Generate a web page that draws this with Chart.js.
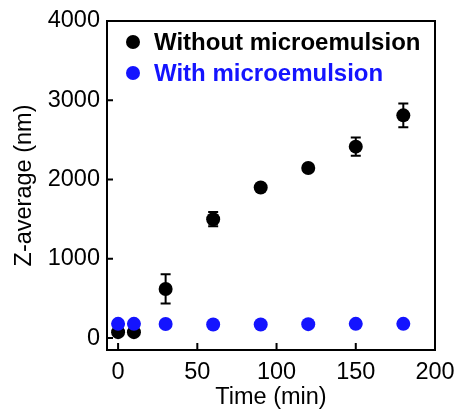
<!DOCTYPE html>
<html>
<head>
<meta charset="utf-8">
<script src="https://cdn.jsdelivr.net/npm/chart.js@4.4.0/dist/chart.umd.min.js"></script>
<style>
  html, body { margin: 0; padding: 0; background: #fff; }
  #wrap { width: 459px; height: 412px; }
</style>
</head>
<body>
<div id="wrap"><canvas id="grafico" width="459" height="412"></canvas></div>
<script>
// datos
const tiempos = [0, 10, 30, 60, 90, 120, 150, 180];
const sinMicro = [75, 75, 620, 1500, 1900, 2145, 2415, 2810];
const sinMicroErr = [30, 30, 185, 90, 40, 40, 115, 150];
const conMicro = [180, 180, 178, 172, 172, 176, 180, 180];
const ticksX = [0, 50, 100, 150, 200];
const ticksY = [0, 1000, 2000, 3000, 4000];

const fuente = '"Liberation Sans", Arial, sans-serif';
const azul = '#1414ff';

const marco = {
  id: 'marco',
  beforeDatasetsDraw(chart) {
    // barras de error
    const { ctx, scales: { x, y } } = chart;
    ctx.save();
    ctx.strokeStyle = '#000';
    ctx.lineWidth = 2;
    tiempos.forEach((t, i) => {
      const px = x.getPixelForValue(t);
      const arriba = y.getPixelForValue(sinMicro[i] + sinMicroErr[i]);
      const abajo = y.getPixelForValue(sinMicro[i] - sinMicroErr[i]);
      ctx.beginPath();
      ctx.moveTo(px, arriba); ctx.lineTo(px, abajo);
      ctx.moveTo(px - 5, arriba); ctx.lineTo(px + 5, arriba);
      ctx.moveTo(px - 5, abajo); ctx.lineTo(px + 5, abajo);
      ctx.stroke();
    });
    ctx.restore();
  },
  afterDraw(chart) {
    const { ctx, chartArea: a, scales: { x, y } } = chart;
    ctx.save();
    ctx.strokeStyle = '#000';
    ctx.lineWidth = 2;
    ctx.strokeRect(a.left, a.top, a.right - a.left, a.bottom - a.top);
    // marcas hacia dentro
    ctx.beginPath();
    ticksY.forEach(v => {
      const py = y.getPixelForValue(v);
      ctx.moveTo(a.left, py); ctx.lineTo(a.left + 6, py);
    });
    ticksX.forEach(v => {
      const px = x.getPixelForValue(v);
      ctx.moveTo(px, a.bottom); ctx.lineTo(px, a.bottom - 7);
    });
    ctx.stroke();
    // leyenda dentro del grafico
    const items = [chart.data.datasets[1], chart.data.datasets[0]];
    ctx.font = 'bold 24px ' + fuente;
    ctx.textBaseline = 'middle';
    items.forEach((ds, i) => {
      const cy = a.top + 21 + i * 31;
      ctx.fillStyle = ds.backgroundColor;
      ctx.beginPath();
      ctx.arc(a.left + 26, cy, 7, 0, Math.PI * 2);
      ctx.fill();
      ctx.fillText(ds.label, a.left + 47, cy + 1);
    });
    ctx.restore();
  }
};

const ctx = document.getElementById('grafico').getContext('2d');
new Chart(ctx, {
  type: 'scatter',
  data: {
    datasets: [
      {
        label: 'With microemulsion',
        data: tiempos.map((t, i) => ({ x: t, y: conMicro[i] })),
        backgroundColor: azul,
        borderColor: azul,
        pointRadius: 7,
        borderWidth: 0
      },
      {
        label: 'Without microemulsion',
        data: tiempos.map((t, i) => ({ x: t, y: sinMicro[i] })),
        backgroundColor: '#000',
        borderColor: '#000',
        pointRadius: 7,
        borderWidth: 0
      }
    ]
  },
  options: {
    responsive: false,
    devicePixelRatio: 1,
    animation: false,
    layout: { padding: { left: 0, right: 24, top: 21, bottom: 0 } },
    plugins: {
      legend: { display: false },
      tooltip: { enabled: false }
    },
    scales: {
      x: {
        type: 'linear',
        min: -7,
        max: 200,
        grid: { display: false, drawTicks: false },
        border: { display: false },
        afterFit: s => { s.height = 62; s.paddingLeft = 0; s.paddingRight = 0; },
        afterBuildTicks: s => { s.ticks = ticksX.map(v => ({ value: v })); },
        ticks: { color: '#000', padding: 8, font: { family: fuente, size: 23.5 }, callback: v => String(v) },
        title: {
          display: true,
          text: 'Time (min)',
          color: '#000',
          padding: { top: 0, bottom: 0 },
          font: { family: fuente, size: 23.5 }
        }
      },
      y: {
        type: 'linear',
        min: -150,
        max: 4000,
        grid: { display: false, drawTicks: false },
        border: { display: false },
        afterFit: s => { s.width = 107; s.paddingTop = 0; s.paddingBottom = 0; },
        afterBuildTicks: s => { s.ticks = ticksY.map(v => ({ value: v })); },
        ticks: { color: '#000', padding: 7, font: { family: fuente, size: 23.5 }, callback: v => String(v) },
        title: {
          display: true,
          text: 'Z-average (nm)',
          color: '#000',
          padding: { top: 10, bottom: 0 },
          font: { family: fuente, size: 23.5 }
        }
      }
    }
  },
  plugins: [marco]
});
</script>
</body>
</html>
